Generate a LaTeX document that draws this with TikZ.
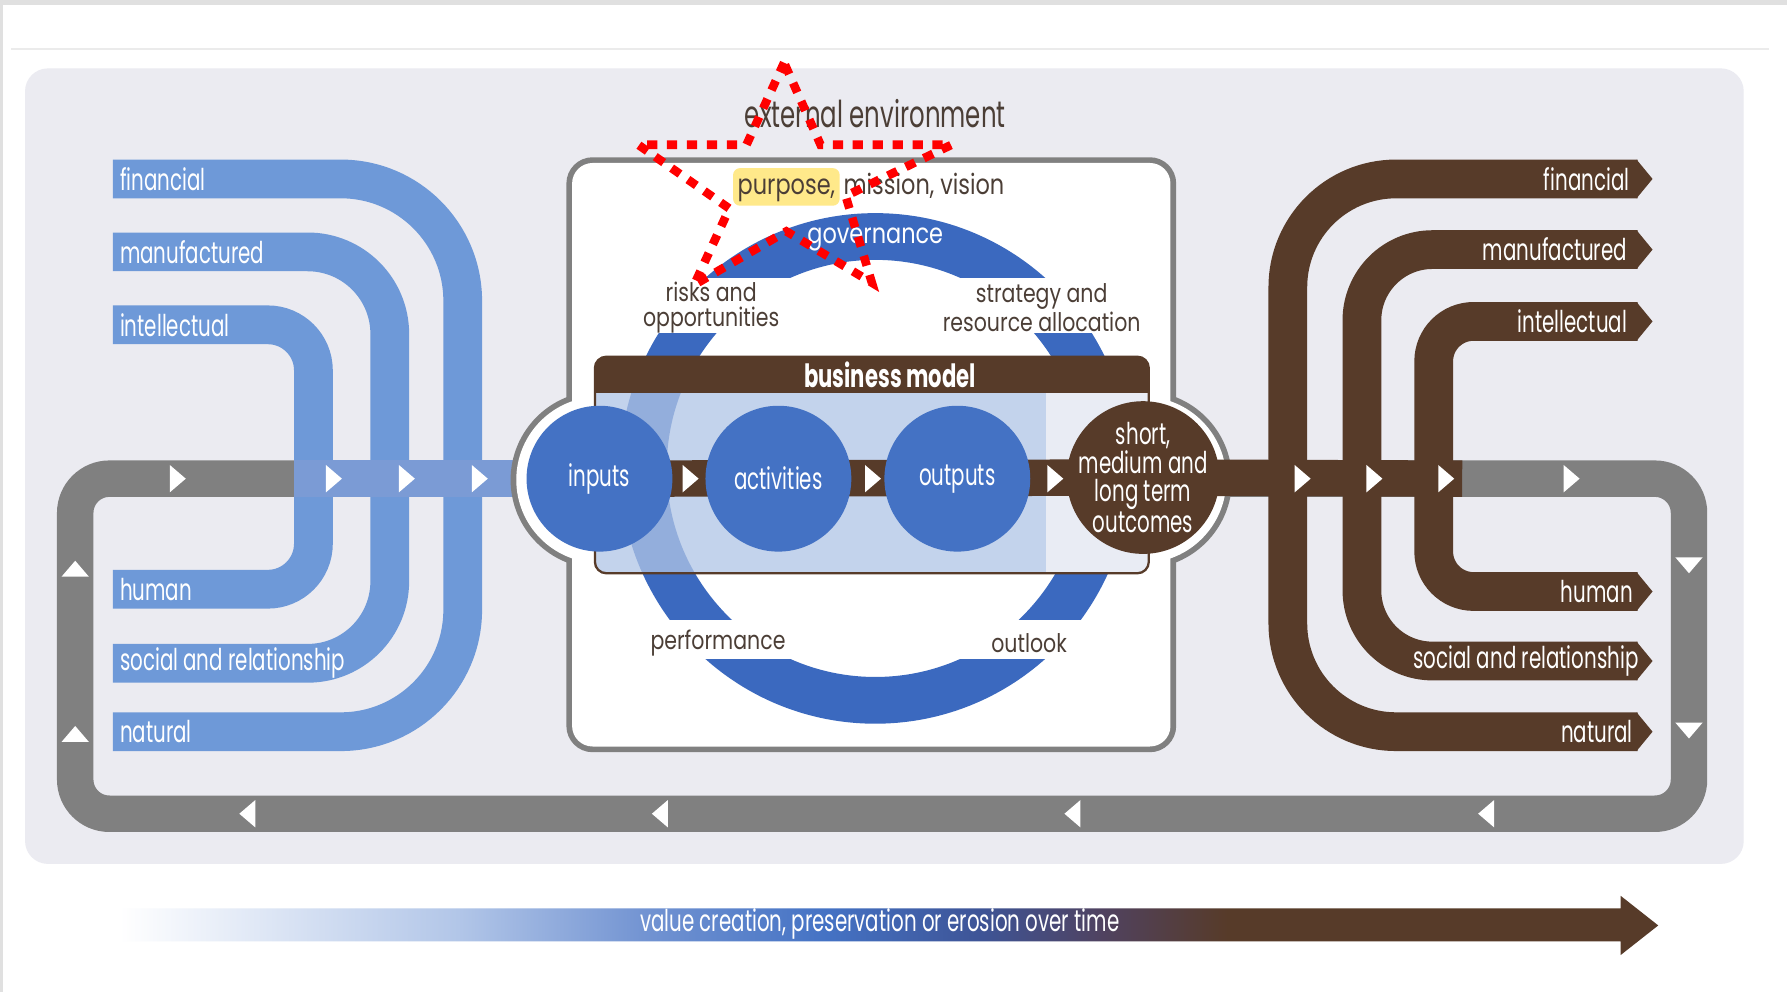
\documentclass[tikz,border=0pt]{standalone}
\usepackage{fontspec}
\setmainfont[FakeStretch=0.8]{Poppins}
\newfontfamily\narrowfont[FakeStretch=0.66]{Poppins}
\usetikzlibrary{positioning}
\definecolor{panel}{HTML}{EBEBF1}
\definecolor{loopgray}{HTML}{808080}
\definecolor{capblue}{HTML}{6E99D8}
\definecolor{crossblue}{HTML}{7B9BD5}
\definecolor{ringblue}{HTML}{3B69BF}
\definecolor{stageblue}{HTML}{4472C4}
\definecolor{capbrown}{HTML}{573B29}
\definecolor{bmblue}{HTML}{B0C5E6}
\definecolor{bmgray}{HTML}{E9ECF4}
\definecolor{inktext}{HTML}{4B3E36}
\definecolor{marker}{HTML}{FFE98A}
\definecolor{paleblue}{HTML}{B2C6E8}
\definecolor{midblue}{HTML}{7394D2}
\definecolor{dusk}{HTML}{3E5496}
\definecolor{plum}{HTML}{50425F}
\pgfdeclarelayer{front}
\pgfsetlayers{main,front}
\pgfdeclarehorizontalshading{valueshade}{100bp}{color(0bp)=(white); color(25bp)=(white); color(36bp)=(paleblue); color(42bp)=(midblue); color(48bp)=(stageblue); color(53bp)=(dusk); color(57bp)=(plum); color(61bp)=(capbrown); color(100bp)=(capbrown)}
% white flow marker: x, y, direction
\newcommand\flowtip[3]{\fill[white, shift={(#1,#2)}, rotate=#3] (-6,-12) -- (8,0) -- (-6,12) -- cycle;}

\begin{document}
\begin{tikzpicture}[
    x=0.02cm, y=-0.02cm,
    capin/.style={line width=0.68cm, color=capblue},
    capout/.style={line width=0.68cm, color=capbrown},
    flowband/.style={line width=0.64cm, color=capbrown},
    caplabel/.style={
        inner sep=0pt,
        text=white,
        font=\narrowfont\fontsize{15}{16}\selectfont,
    },
    stage/.style={
        circle,
        fill=stageblue,
        minimum size=2.56cm,
        inner sep=0pt,
        text=white,
        font=\narrowfont\fontsize{15}{16}\selectfont,
    },
    outcome/.style={
        circle,
        fill=capbrown,
        minimum size=2.68cm,
        inner sep=-0.5cm,
        align=center,
        text=white,
        font=\narrowfont\fontsize{15}{14.2}\selectfont,
    },
    boxtext/.style={
        inner sep=1pt,
        align=center,
        text=inktext,
        font=\fontsize{12.8}{12.5}\selectfont,
    },
    starmark/.style={red, line width=0.15cm, dash pattern=on 0.18cm off 0.17cm},
]
\useasboundingbox (0,0) rectangle (1568,870);

% stages sit on top of the brown flow
\begin{pgfonlayer}{front}
\node[stage] (inputs)     at (526,420) {inputs};
\node[stage] (activities) at (683,420) {activities};
\node[stage] (outputs)    at (840,420) {outputs};
\node[outcome] (outcomes) at (1003,419) {short,\\medium and\\long term\\outcomes};
\end{pgfonlayer}

% page and panel
\fill[white] (0,0) rectangle (1568,870);
\fill[black!12] (0,0) rectangle (1568,4);
\fill[black!12] (0,0) rectangle (3,870);
\draw[black!8, line width=1pt] (10,43) -- (1552,43);
\fill[panel, rounded corners=0.4cm] (22,60) rectangle (1530,758);

% feedback loop
\draw[line width=0.64cm, loopgray, rounded corners=0.6cm] (66,420) rectangle (1482,714);

% capitals in
\draw[capin, rounded corners=2.14cm] (99,157) -- (406,157) -- (406,642) -- (99,642);
\draw[capin, rounded corners=1.44cm] (99,221) -- (342,221) -- (342,582) -- (99,582);
\draw[capin, rounded corners=0.8cm]  (99,285) -- (275,285) -- (275,517) -- (99,517);
\coordinate (capjoin) at (258,420);
\draw[line width=0.64cm, crossblue] (capjoin) -- (inputs.center);

% capitals out
\draw[capout, rounded corners=1.9cm]  (1437,157) -- (1130,157) -- (1130,642) -- (1437,642);
\draw[capout, rounded corners=1.24cm] (1437,219) -- (1195,219) -- (1195,580) -- (1437,580);
\draw[capout, rounded corners=0.7cm]  (1437,282) -- (1258,282) -- (1258,519) -- (1437,519);
\foreach \y in {157,219,282,519,580,642}
    \fill[capbrown] (1436,\y-17) -- (1450,\y) -- (1436,\y+17) -- cycle;

% organisation box with its two bulges
\draw[loopgray, line width=0.2cm, rounded corners=0.36cm] (502,143) rectangle (1027,655);
\draw[loopgray, line width=0.2cm] (526,421) circle[radius=73] (1003,421) circle[radius=73];
\fill[white, rounded corners=0.36cm] (502,143) rectangle (1027,655);
\fill[white] (526,421) circle[radius=73] (1003,421) circle[radius=73];

% governance ring, cut where the labels sit
\fill[ringblue, even odd rule] (768,411) circle[radius=224] (768,411) circle[radius=183];
\fill[white] (540,244) rectangle (996,292);
\fill[white] (540,544) rectangle (996,578);

% business model
\begin{scope}
    \clip[rounded corners=0.2cm] (522,313) rectangle (1008,503);
    \fill[bmblue, opacity=0.755] (522,345) rectangle (918,503);
    \fill[bmgray] (918,345) rectangle (1008,503);
    \fill[capbrown] (522,313) rectangle (1008,345);
\end{scope}
\draw[capbrown, line width=0.04cm, rounded corners=0.2cm] (522,313) rectangle (1008,503);
\node[text=white, font=\narrowfont\bfseries\fontsize{16}{17}\selectfont] (bmtitle) at (781,329) {business model};

% value flow through the business model
\draw[flowband] (inputs.center) -- (outcomes.center);
\coordinate (loopjoin) at (1283,420);
\draw[flowband] (outcomes.center) -- (loopjoin);

\foreach \x in {155,292,356,420,605,765,925,1142,1205,1268,1378}
    \flowtip{\x}{420}{0};
\foreach \y in {500,645}
    \flowtip{66}{\y}{90};
\foreach \y in {495,640}
    \flowtip{1482}{\y}{-90};
\foreach \x in {218,580,942,1305}
    \flowtip{\x}{714}{180};

% capital labels
\node[caplabel, anchor=west] (finin)  at (105,157) {financial};
\node[caplabel, anchor=west] (manin)  at (105,221) {manufactured};
\node[caplabel, anchor=west] (intin)  at (105,285) {intellectual};
\node[caplabel, anchor=west] (humin)  at (105,517) {human};
\node[caplabel, anchor=west] (socin)  at (105,582) {social and relationship};
\node[caplabel, anchor=west] (natin)  at (105,642) {natural};
\node[caplabel, anchor=east] (finout) at (1430,157) {financial};
\node[caplabel, anchor=east] (manout) at (1428,219) {manufactured};
\node[caplabel, anchor=east] (intout) at (1428,282) {intellectual};
\node[caplabel, anchor=east] (humout) at (1433,519) {human};
\node[caplabel, anchor=east] (socout) at (1438,580) {social and relationship};
\node[caplabel, anchor=east] (natout) at (1433,642) {natural};

% texts in the box
\node[boxtext, font=\narrowfont\fontsize{18.5}{20}\selectfont] (external) at (768,100) {external environment};
\node[boxtext, font=\fontsize{14}{15}\selectfont, fill=marker, rounded corners=0.12cm,
      inner xsep=0.08cm, inner ysep=0.1cm, text height=0.36cm, text depth=0.1cm] (purpose) at (690,164) {purpose,};
\node[boxtext, font=\fontsize{14}{15}\selectfont, right=0.02cm of purpose,
      text height=0.36cm, text depth=0.1cm] (mission) {mission, vision};
\node[boxtext, font=\fontsize{14}{15}\selectfont, text=white] (governance) at (768,210) {governance};
\node[boxtext] (risks)    at (624,270) {risks and\\opportunities};
\node[boxtext] (strategy) at (914,270) {strategy and\\resource allocation};
\node[boxtext] (perf)     at (630,564) {performance};
\node[boxtext] (outlook)  at (903,564) {outlook};

% value over time
\shade[shading=valueshade] (105,797) -- (1422,797) -- (1422,786) -- (1455,812)
    -- (1422,838) -- (1422,826) -- (105,826) -- cycle;
\node[caplabel] (valuetext) at (772,811) {value creation, preservation or erosion over time};

% highlight star
\draw[starmark] (688,55) -- (655,127) -- (560,127) -- (640,183) -- (609,250) -- (690,203)
    -- (765,248) -- (742,172) -- (835,127) -- (720,127) -- cycle;

\end{tikzpicture}
\end{document}
